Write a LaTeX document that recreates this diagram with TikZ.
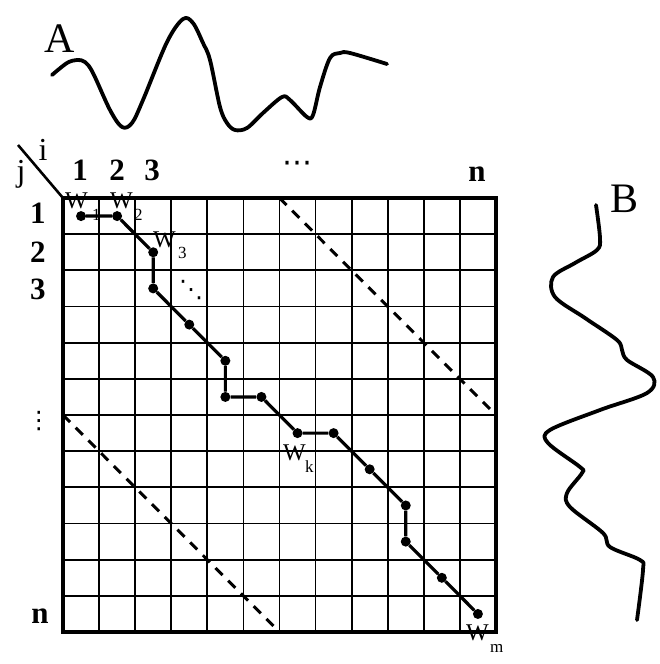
\documentclass[tikz,border=0pt]{standalone}
\usepackage{fontspec}
\setmainfont{Liberation Serif}
\newfontfamily\symfont{DejaVu Sans}
\begin{document}
\begin{tikzpicture}[x=1pt,y=-1pt,
  gridline/.style={line width=1.8pt},
  border/.style={line width=4.2pt},
  warp/.style={line width=3.2pt},
  dot/.style={circle,fill=black,inner sep=0pt,minimum size=10pt},
  dashdiag/.style={line width=3pt,dash pattern=on 10pt off 8pt},
  wave/.style={line width=3.8pt,line cap=round,line join=round},
  axlbl/.style={font=\fontsize{31}{31}\selectfont\bfseries,inner sep=0pt,anchor=base},
  biglbl/.style={font=\fontsize{42}{42}\selectfont,inner sep=0pt},
  ijlbl/.style={font=\fontsize{32}{32}\selectfont,inner sep=0pt,anchor=base},
  symlbl/.style={font=\fontsize{24}{24}\selectfont\symfont,inner sep=0pt},
  wlbl/.style={font=\fontsize{24}{24}\selectfont,inner sep=0pt,anchor=base west},
  sublbl/.style={font=\fontsize{17}{17}\selectfont,inner sep=0pt,anchor=base west}]
\useasboundingbox (0,0) rectangle (660,664);

% signal A
\draw[wave] plot[smooth,tension=0.55] coordinates {(52,75) (67,63) (77,60) (85,62) (93,73) (110,110) (122,127) (132,123) (143,100) (167,42) (183,19) (193,23) (203,43) (210,60) (220,107) (227,123) (235,130) (247,128) (263,113) (282,97) (290,100) (307,117) (313,115) (320,87) (330,58) (340,53) (350,53) (387,64)};
\node[biglbl] (A) at (60,39) {A};

% signal B
\draw[wave] plot[smooth,tension=0.55] coordinates {(596,205) (600,238) (597,250) (575,263) (553,277) (555,297) (585,318) (617,340) (622,350) (627,360) (653,377) (647,393) (600,410) (550,430) (548,443) (580,467) (582,473) (567,493) (570,507) (603,533) (610,547) (640,560) (643,570) (637,620)};
\node[biglbl] (B) at (624,199) {B};

% corner diagonal
\coordinate (cstart) at (18,145);
\coordinate (corner) at (63,198);
\draw[line width=2.6pt] (cstart) -- (corner);
\node[ijlbl] (li) at (43,160) {i};
\node[ijlbl] (lj) at (21,181) {j};

% axis labels
\node[axlbl] (c1) at (80,180) {1};
\node[axlbl] (c2) at (117,180) {2};
\node[axlbl] (c3) at (152,180) {3};
\node[symlbl,font=\fontsize{30}{30}\selectfont\symfont] (cdots) at (297,167) {⋯};
\node[axlbl] (cn) at (477,181) {n};
\node[axlbl] (r1) at (38,223) {1};
\node[axlbl] (r2) at (38,262) {2};
\node[axlbl] (r3) at (38,299) {3};
\node[symlbl] (rdots) at (39,421) {⋮};
\node[axlbl] (rn) at (40,623) {n};

\begin{scope}[shift={(63,198)},x=36.08pt,y=-36.17pt]
  \foreach \k in {1,...,11} {
    \draw[gridline] (\k,0) -- (\k,12);
    \draw[gridline] (0,\k) -- (12,\k);
  }
  \draw[border] (0,0) rectangle (12,12);
  % band limits
  \coordinate (u1) at (6,0);
  \coordinate (u2) at (12,6);
  \coordinate (l1) at (0,6);
  \coordinate (l2) at (6,12);
  \draw[dashdiag] (u1) -- (u2);
  \draw[dashdiag] (l1) -- (l2);
  % warping path points
  \node[dot] (p1) at (0.5,0.5) {};
  \node[dot] (p2) at (1.5,0.5) {};
  \node[dot] (p3) at (2.5,1.5) {};
  \node[dot] (p4) at (2.5,2.5) {};
  \node[dot] (p5) at (3.5,3.5) {};
  \node[dot] (p6) at (4.5,4.5) {};
  \node[dot] (p7) at (4.5,5.5) {};
  \node[dot] (p8) at (5.5,5.5) {};
  \node[dot] (p9) at (6.5,6.5) {};
  \node[dot] (p10) at (7.5,6.5) {};
  \node[dot] (p11) at (8.5,7.5) {};
  \node[dot] (p12) at (9.5,8.5) {};
  \node[dot] (p13) at (9.5,9.5) {};
  \node[dot] (p14) at (10.5,10.5) {};
  \node[dot] (p15) at (11.5,11.5) {};
  \draw[warp] (p1) -- (p2) -- (p3) -- (p4) -- (p5) -- (p6) -- (p7) -- (p8) -- (p9) -- (p10) -- (p11) -- (p12) -- (p13) -- (p14) -- (p15);
\end{scope}

% path labels
\node[wlbl] (w1) at (65,208) {W};
\node[sublbl] (w1s) at (92,220) {1};
\node[wlbl] (w2) at (110,208) {W};
\node[sublbl] (w2s) at (134,220) {2};
\node[wlbl] (w3) at (153,247) {W};
\node[sublbl] (w3s) at (178,258) {3};
\node[symlbl] (ddots) at (191,290) {⋱};
\node[wlbl] (wk) at (283,460) {W};
\node[sublbl] (wks) at (305,472) {k};
\node[wlbl] (wm) at (466,640) {W};
\node[sublbl] (wms) at (490,652) {m};
\end{tikzpicture}
\end{document}
